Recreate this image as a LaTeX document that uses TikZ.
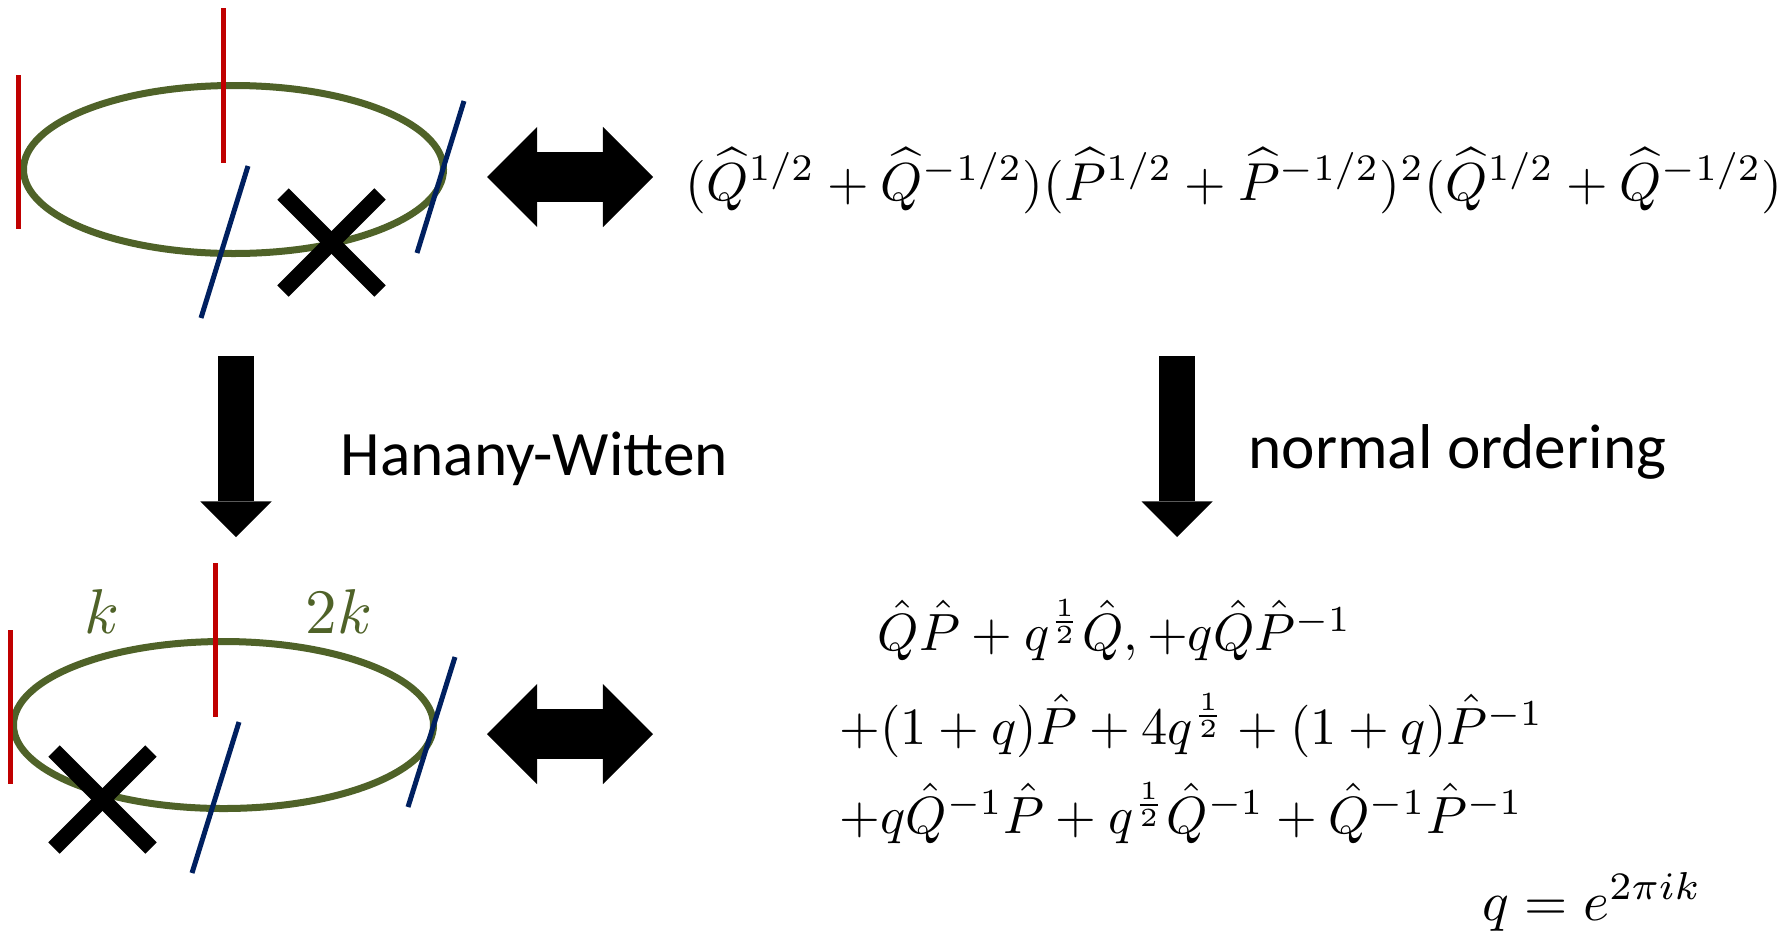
\documentclass[tikz,border=0pt]{standalone}
\usepackage{fontspec}
\newfontfamily\calibri{Carlito}
\usetikzlibrary{arrows.meta}
\definecolor{braneGreen}{HTML}{4F6228}
\definecolor{nsRed}{HTML}{C00000}
\definecolor{dBlue}{HTML}{002060}
\newcommand{\eqsize}[2][1.52]{\scalebox{#1}{$#2$}}
\tikzset{
  ring/.style={braneGreen, line width=0.07cm},
  nsfive/.style={nsRed, line width=0.05cm},
  dfive/.style={dBlue, line width=0.05cm},
  orient/.style={line width=0.16cm},
  dblarrow/.style={line width=0.5cm,
    {Triangle[length=0.5cm,width=1cm,line width=0pt]}-{Triangle[length=0.5cm,width=1cm,line width=0pt]}},
  downarrow/.style={line width=0.36cm, -{Triangle[length=0.355cm,width=0.71cm,line width=0pt]}},
  formula/.style={inner sep=0pt, anchor=base west},
  caption/.style={font=\calibri\fontsize{18}{20}\selectfont, inner sep=0pt, anchor=base west},
  charge/.style={braneGreen, inner sep=0pt, anchor=base},
}
\begin{document}
\begin{tikzpicture}[x=0.01cm, y=-0.01cm]
  \useasboundingbox (0,0) rectangle (1783,930);
  % Top brane configuration
  \draw[ring] (233.5,169.5) ellipse [x radius=210, y radius=84];
  \draw[nsfive] (18.6,75) -- (18.6,229);
  \draw[nsfive] (223.6,8) -- (223.6,163);
  \draw[dfive] (201,318) -- (248,166);
  \draw[dfive] (417,253) -- (464,101);
  \draw[orient] (283,194) -- (380,291);
  \draw[orient] (380,194) -- (283,291);
  % Top formula
  \coordinate (tA) at (487,177);
  \coordinate (tB) at (653,177);
  \draw[dblarrow] (tA) -- (tB);
  \node[formula] (topeq) at (685,200)
    {\eqsize{(\widehat{Q}^{1/2}+\widehat{Q}^{-1/2})(\widehat{P}^{1/2}+\widehat{P}^{-1/2})^2(\widehat{Q}^{1/2}+\widehat{Q}^{-1/2})}};
  % Moves
  \coordinate (lTop) at (236,356);
  \coordinate (lTip) at (236,537);
  \draw[downarrow] (lTop) -- (lTip);
  \node[caption] (hw) at (340,475) {Hanany-Witten};
  \coordinate (rTop) at (1177,356);
  \coordinate (rTip) at (1177,537);
  \draw[downarrow] (rTop) -- (rTip);
  \node[caption] (nord) at (1248,468) {normal ordering};
  % Bottom brane configuration
  \draw[ring] (223.5,725) ellipse [x radius=210, y radius=83.5];
  \draw[nsfive] (10.7,630) -- (10.7,784);
  \draw[nsfive] (215,563) -- (215,717);
  \draw[dfive] (192,873) -- (239,722);
  \draw[dfive] (408,807) -- (455,657);
  \draw[orient] (54,751) -- (151,848);
  \draw[orient] (151,751) -- (54,848);
  \node[charge] (kL) at (102,633) {\scalebox{1.8}{$k$}};
  \node[charge] (kR) at (339,633) {\scalebox{1.8}{$2k$}};
  % Bottom formula
  \coordinate (bA) at (487,734);
  \coordinate (bB) at (653,734);
  \draw[dblarrow] (bA) -- (bB);
  \node[formula] (eqA) at (877,650) {\eqsize[1.49]{\hat{Q}\hat{P}+q^{\frac{1}{2}}\hat{Q},+q\hat{Q}\hat{P}^{-1}}};
  \node[formula] (eqB) at (839,744) {\eqsize[1.49]{+(1+q)\hat{P}+4q^{\frac{1}{2}}+(1+q)\hat{P}^{-1}}};
  \node[formula] (eqC) at (839,833) {\eqsize[1.49]{+q\hat{Q}^{-1}\hat{P}+q^{\frac{1}{2}}\hat{Q}^{-1}+\hat{Q}^{-1}\hat{P}^{-1}}};
  \node[formula] (qdef) at (1482,920) {\eqsize[1.58]{q=e^{2\pi ik}}};
\end{tikzpicture}
\end{document}
